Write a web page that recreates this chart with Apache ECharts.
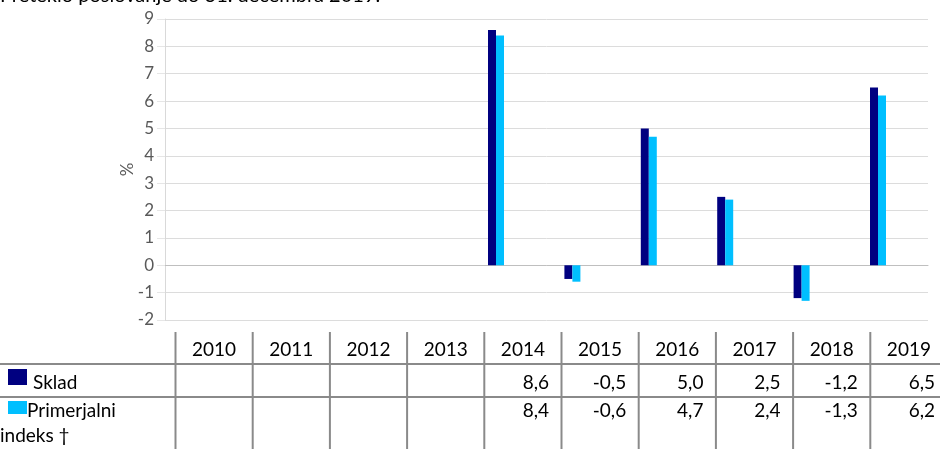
<!DOCTYPE html>
<html>
<head>
<meta charset="utf-8">
<script src="https://cdn.jsdelivr.net/npm/echarts@6/dist/echarts.min.js"></script>
<style>
html,body{margin:0;padding:0;background:#fff;}
#chart{width:940px;height:449px;}
</style>
</head>
<body>
<div id="chart"></div>
<script>
const titleText = 'Preteklo poslovanje do 31. decembra 2019.';
const years = ['2010','2011','2012','2013','2014','2015','2016','2017','2018','2019'];
const fundValues = [null,null,null,null,8.6,-0.5,5.0,2.5,-1.2,6.5];
const indexValues = [null,null,null,null,8.4,-0.6,4.7,2.4,-1.3,6.2];
const seriesNames = ['Sklad','Primerjalni indeks †'];
const yMin = -2, yMax = 9, yStep = 1;
const axisName = '%';

const colors = ['#000080','#00BFFF'];
const font = 'Lato, "Liberation Sans", sans-serif';
const tableFont = 19;
const lineColor = '#8a8a8a';

// table layout
const colStart = 175.5, colW = 77.2;
const tableTop = 332, rowLines = [364, 397], tableBottom = 449;
const fmt = v => (v === null || v === undefined) ? '' : v.toFixed(1).replace('.', ',');

const graphics = [];
graphics.push({type:'text', left:0, top:-14, style:{text:titleText, font:'20px '+font, fill:'#000'}});
graphics.push({type:'text', x:128, y:169.5, rotation:Math.PI/2, style:{text:axisName, font:'17px '+font, fill:'#595959', textAlign:'center', textVerticalAlign:'middle'}});
rowLines.forEach(y => graphics.push({type:'line', shape:{x1:0,y1:y,x2:940,y2:y}, style:{stroke:lineColor, lineWidth:2}}));
for (let i = 0; i < years.length; i++) {
  const x = colStart + i*colW;
  graphics.push({type:'line', shape:{x1:x,y1:tableTop,x2:x,y2:tableBottom}, style:{stroke:lineColor, lineWidth:2}});
  graphics.push({type:'text', x:x+colW/2, y:350, style:{text:years[i], font:tableFont+'px '+font, fill:'#000', textAlign:'center', textVerticalAlign:'middle'}});
  [fundValues, indexValues].forEach((arr, r) => {
    graphics.push({type:'text', x:x+colW-12.5, y:r===0?382.5:411, style:{text:fmt(arr[i]), font:tableFont+'px '+font, fill:'#000', textAlign:'right', textVerticalAlign:'middle'}});
  });
}
// legend keys in the table
graphics.push({type:'rect', shape:{x:8,y:369,width:19,height:16}, style:{fill:colors[0]}});
graphics.push({type:'text', x:33, y:382.5, style:{text:seriesNames[0], font:tableFont+'px '+font, fill:'#000', textVerticalAlign:'middle'}});
graphics.push({type:'rect', shape:{x:8,y:401,width:19,height:13}, style:{fill:colors[1]}});
const nameParts = seriesNames[1].split(' ');
graphics.push({type:'text', x:27, y:411, style:{text:nameParts[0], font:tableFont+'px '+font, fill:'#000', textVerticalAlign:'middle'}});
graphics.push({type:'text', x:0, y:436, style:{text:nameParts.slice(1).join(' '), font:tableFont+'px '+font, fill:'#000', textVerticalAlign:'middle'}});

const chart = echarts.init(document.getElementById('chart'), null, {renderer:'canvas'});
chart.setOption({
  animation:false,
  backgroundColor:'#fff',
  grid:[
    {left:165, right:12, top:19, bottom:129},
    {left:152.2, width:764, top:19, bottom:129}
  ],
  xAxis:[
    {gridIndex:0, type:'category', data:years, axisLine:{show:true, onZero:true, lineStyle:{color:'#bfbfbf'}}, axisTick:{show:false}, axisLabel:{show:false}},
    {gridIndex:1, type:'category', data:years, show:false}
  ],
  yAxis:[
    {gridIndex:0, type:'value', min:yMin, max:yMax, interval:yStep,
     axisLine:{show:true, lineStyle:{color:'#d9d9d9'}},
     axisTick:{show:true, length:8, lineStyle:{color:'#e6e6e6'}},
     axisLabel:{color:'#595959', fontSize:17, fontFamily:font, margin:11},
     splitLine:{lineStyle:{color:'#dcdcdc', width:1}}},
    {gridIndex:1, type:'value', min:yMin, max:yMax, interval:yStep, show:false, splitLine:{show:false}}
  ],
  series:[
    {name:seriesNames[0], type:'bar', xAxisIndex:1, yAxisIndex:1, data:fundValues, barWidth:8, barGap:'0%', itemStyle:{color:colors[0]}},
    {name:seriesNames[1], type:'bar', xAxisIndex:1, yAxisIndex:1, data:indexValues, barWidth:8, barGap:'0%', itemStyle:{color:colors[1]}}
  ],
  graphic:graphics
});
</script>
</body>
</html>
